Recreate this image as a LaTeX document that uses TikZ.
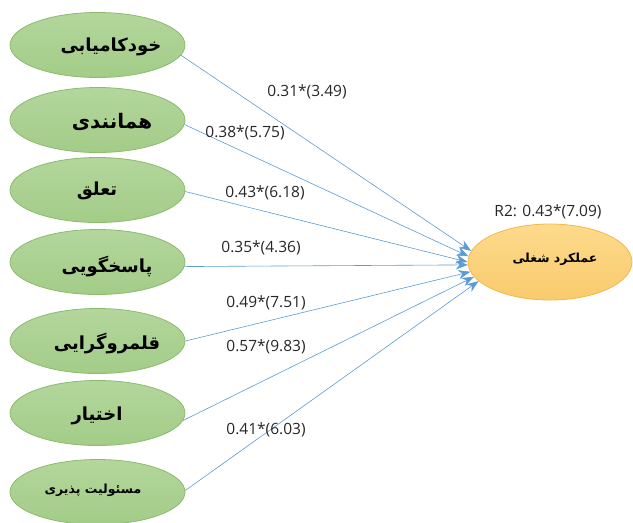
\documentclass[tikz,border=0pt]{standalone}
\usepackage{fontspec}
\setmainfont{Open Sans}
\newfontfamily\fa[Script=Arabic]{DejaVu Sans}
\TeXXeTstate=1
\usetikzlibrary{shapes.geometric,arrows.meta}
\definecolor{gtop}{HTML}{B3D69C}
\definecolor{gbot}{HTML}{A3CC88}
\definecolor{gline}{HTML}{8CBB6E}
\definecolor{ytop}{HTML}{FDDA8C}
\definecolor{ybot}{HTML}{F9CB6C}
\definecolor{yline}{HTML}{F2B84B}
\definecolor{lc}{HTML}{5B9BD5}
\definecolor{numc}{HTML}{262626}
\begin{document}
\begin{tikzpicture}[x=1pt,y=-1pt,
  gel/.style={ellipse, draw=gline, top color=gtop, bottom color=gbot, minimum width=175pt, minimum height=65pt, inner sep=0pt, line width=0.8pt},
  yel/.style={ellipse, draw=yline, top color=ytop, bottom color=ybot, minimum width=164pt, minimum height=76pt, inner sep=0pt, line width=0.8pt},
  fatxt/.style={font=\fa\bfseries\fontsize{18}{20}\selectfont, inner sep=0pt},
  fatxtm/.style={font=\fa\bfseries\fontsize{20}{22}\selectfont, inner sep=0pt},
  fatxts/.style={font=\fa\bfseries\fontsize{12.5}{14}\selectfont, inner sep=0pt},
  num/.style={font=\fontsize{15.5}{18}\selectfont, inner sep=0pt, text=numc},
  conn/.style={draw=lc, line width=0.6pt, -{Stealth[length=12pt,width=9pt]}}]
\useasboundingbox (0,0) rectangle (633,523);
% left ellipses
\node[gel] (g1) at (97.5,45) {};
\node[gel] (g2) at (97.5,120) {};
\node[gel] (g3) at (97.5,190) {};
\node[gel] (g4) at (97.5,262) {};
\node[gel] (g5) at (97.5,341) {};
\node[gel] (g6) at (97.5,413) {};
\node[gel] (g7) at (97.5,492) {};
% right ellipse
\node[yel] (y) at (550,262) {};
% texts
\node[fatxt] (t1) at (111,47) {\beginR خودکامیابی\endR};
\node[fatxtm] (t2) at (112,122) {\beginR همانندی\endR};
\node[fatxt] (t3) at (97,191) {\beginR تعلق\endR};
\node[fatxt] (t4) at (107,267) {\beginR پاسخگویی\endR};
\node[fatxt] (t5) at (107,344) {\beginR قلمروگرایی\endR};
\node[fatxt] (t6) at (97,416) {\beginR اختیار\endR};
\node[fatxts] (t7) at (93,490) {\beginR مسئولیت پذیری\endR};
\node[fatxts] (ty) at (555,259) {\beginR عملکرد شغلی\endR};
% connectors
\draw[conn] (g1.-7) -- (y.172);
\draw[conn] (g2.-3) -- (y.176);
\draw[conn] (g3.-1) -- (y.180);
\draw[conn] (g4.-3) -- (y.182);
\draw[conn] (g5.0) -- (y.187);
\draw[conn] (g6.-5) -- (y.191);
\draw[conn] (g7.1) -- (y.195);
% labels
\node[num] (l1) at (307,92) {0.31*(3.49)};
\node[num] (l2) at (245,133) {0.38*(5.75)};
\node[num] (l3) at (265,193) {0.43*(6.18)};
\node[num] (l4) at (261,248) {0.35*(4.36)};
\node[num] (l5) at (266,303) {0.49*(7.51)};
\node[num] (l6) at (266,347) {0.57*(9.83)};
\node[num] (l7) at (266,430) {0.41*(6.03)};
\node[num] (r2) at (548,212) {R2: 0.43*(7.09)};
\end{tikzpicture}
\end{document}
